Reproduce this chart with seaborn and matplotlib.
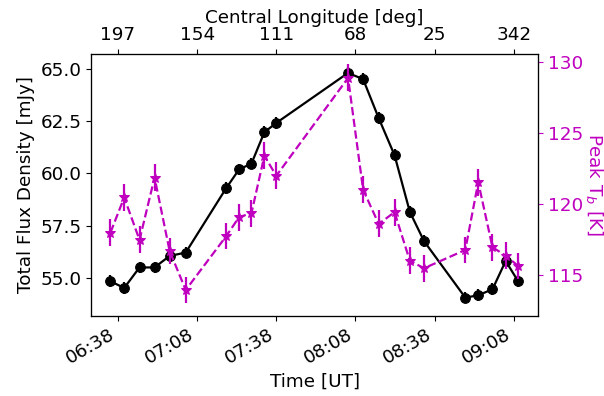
import pandas as pd
import matplotlib
matplotlib.use('Agg')
import matplotlib.pyplot as plt
import matplotlib.dates as mdates
import seaborn as sns

# observation times (UT)
times = ['06:35:12', '06:40:24', '06:46:12', '06:51:54', '06:57:36', '07:03:42',
         '07:19:06', '07:23:54', '07:28:36', '07:33:30', '07:38:00',
         '08:05:12', '08:10:54', '08:16:48', '08:22:48', '08:28:36', '08:34:00',
         '08:49:36', '08:54:30', '08:59:54', '09:04:54', '09:09:36']

flux = [54.84, 54.52, 55.50, 55.50, 56.05, 56.21,
        59.30, 60.18, 60.46, 61.96, 62.40,
        64.79, 64.49, 62.63, 60.86, 58.15, 56.75,
        54.06, 54.17, 54.46, 55.81, 54.84]
flux_err = [0.28] * 22

peak_tb = [117.97, 120.45, 117.45, 121.86, 116.67, 113.91,
           117.73, 119.06, 119.34, 123.40, 121.98,
           128.90, 120.99, 118.58, 119.41, 115.97, 115.45,
           116.74, 121.53, 116.93, 116.34, 115.61]
tb_err = [0.95] * 22

tick_times = ['06:38', '07:08', '07:38', '08:08', '08:38', '09:08']
lon_labels = ['197', '154', '111', '68', '25', '342']

day = '2000-01-01 '
df = pd.DataFrame({'time': pd.to_datetime([day + t for t in times]),
                   'flux': flux, 'flux_err': flux_err,
                   'tb': peak_tb, 'tb_err': tb_err})
ticks = pd.to_datetime([day + t for t in tick_times])

sns.set_style('ticks', {'axes.edgecolor': 'k', 'text.color': 'k',
                        'axes.labelcolor': 'k', 'xtick.color': 'k',
                        'ytick.color': 'k'})
plt.rcParams['font.family'] = ['DejaVu Sans']
fs = 13.2

fig = plt.figure(figsize=(6.04, 3.96), dpi=100)
ax = fig.add_axes([0.151, 0.203, 0.74, 0.661])

sns.lineplot(data=df, x='time', y='flux', ax=ax, color='k', marker='o',
             markersize=7, linewidth=1.6, markeredgecolor='k')
ax.errorbar(df['time'], df['flux'], yerr=df['flux_err'], fmt='none',
            ecolor='k', elinewidth=1.6)
ax.set_ylim(53.2, 65.7)
ax.set_yticks([55.0, 57.5, 60.0, 62.5, 65.0])
ax.set_ylabel('Total Flux Density [mJy]', fontsize=fs)
ax.set_xlabel('Time [UT]', fontsize=fs)
xlim = (pd.Timestamp(day + '06:27:54'), pd.Timestamp(day + '09:17:12'))
ax.set_xlim(xlim)
ax.set_xticks(ticks)
ax.xaxis.set_major_formatter(mdates.DateFormatter('%H:%M'))
plt.setp(ax.get_xticklabels(), rotation=30, ha='right')
ax.tick_params(labelsize=fs)

ax2 = ax.twinx()
sns.lineplot(data=df, x='time', y='tb', ax=ax2, color='m', marker='*',
             markersize=7.5, linewidth=1.6, linestyle='--', markeredgecolor='m')
ax2.errorbar(df['time'], df['tb'], yerr=df['tb_err'], fmt='none',
             ecolor='m', elinewidth=1.6)
ax2.set_ylim(112.1, 130.6)
ax2.set_yticks([115, 120, 125, 130])
ax2.set_ylabel('Peak T$_b$ [K]', color='m', rotation=270, labelpad=16, fontsize=fs)
ax2.tick_params(axis='y', colors='m', labelsize=fs)
ax2.set_xlim(xlim)

ax3 = ax.twiny()
ax3.set_xlim(xlim)
ax3.set_xticks(ticks)
ax3.set_xticklabels(lon_labels)
ax3.set_xlabel('Central Longitude [deg]', fontsize=fs, labelpad=2)
ax3.tick_params(labelsize=fs)

plt.savefig('out.png', dpi=100)
plt.close()
